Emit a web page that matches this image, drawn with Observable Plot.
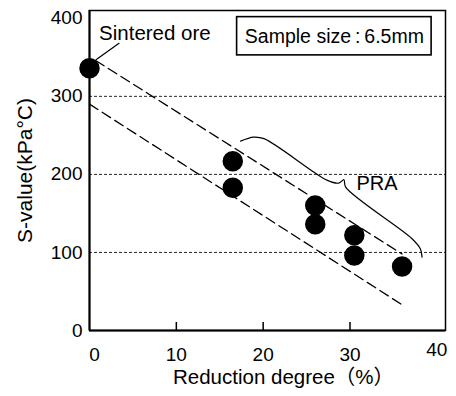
<!DOCTYPE html>
<html>
<head>
<meta charset="utf-8">
<script src="https://cdn.jsdelivr.net/npm/d3@7"></script>
<script src="https://cdn.jsdelivr.net/npm/@observablehq/plot@0.6"></script>
<style>
  html, body { margin: 0; padding: 0; background: #fff; }
</style>
</head>
<body>
<div id="chart"></div>
<script>
// ---- data ----
const reduction = [0, 16.5, 16.5, 26, 26, 30.5, 30.5, 36];
const sValue    = [336, 217, 183, 160, 136, 122, 96, 82];
const yTicks = [0, 100, 200, 300, 400];
const gridValues = [100, 200, 300];
const xTicksInner = [10, 20, 30];
// annotation geometry (data units)
const upperBand = [[0.7, 346], [36, 98]];
const lowerBand = [[0, 290], [36, 33]];
const leader = [[0.75, 347], [3.4, 368]];
const brace = [[17.4, 242.7], [18.9, 247.8], [20.1, 245.8], [27.4, 192.3], [28.7, 188.8], [29.3, 193.2],
               [29.5, 183.7], [37.15, 117.6], [38.1, 104.7], [38.3, 94]];
const sinteredLabel = {x: 1.1, y: 381, text: "Sintered ore"};
const praLabel = {x: 30.75, y: 188, text: "PRA"};
const sampleBox = {x1: 17, x2: 39.4, y1: 352.5, y2: 401.5, text: "Sample size\u2009:\u20096.5mm"};
const xTitle = "Reduction degree（%）";
const yTitle = "S-value(kPa°C)";

const points = reduction.map((x, i) => ({x, y: sValue[i]}));
const font = "'Liberation Sans', Arial, 'Noto Sans CJK JP', sans-serif";

const chart = Plot.plot({
  width: 456,
  height: 396,
  marginLeft: 89,
  marginRight: 11,
  marginTop: 10,
  marginBottom: 66,
  style: {fontFamily: font, fontSize: "19px", background: "#fff", color: "#000"},
  x: {domain: [0, 41]},
  y: {domain: [0, 410]},
  marks: [
    Plot.gridY(gridValues, {stroke: "#000", strokeOpacity: 0.85, strokeWidth: 1, strokeDasharray: "3,2"}),
    Plot.axisY(yTicks, {tickSize: 0, tickPadding: 7, fontSize: 19, label: null}),
    Plot.axisY([], {tickSize: 0, label: yTitle, labelArrow: "none", labelAnchor: "center", labelOffset: 72, fontSize: 21}),
    Plot.axisX(xTicksInner, {tickSize: 0, tickPadding: 17, fontSize: 19, label: null}),
    Plot.axisX([0], {tickSize: 0, tickPadding: 17, dx: 5, fontSize: 19, label: null}),
    Plot.axisX([40], {tickSize: 0, tickPadding: 12, fontSize: 19, label: null}),
    Plot.ruleX(xTicksInner, {y1: 0, y2: 0, insetTop: -8, stroke: "#000", strokeWidth: 1.5}),
    Plot.line(upperBand, {x: d => d[0], y: d => d[1], stroke: "#000", strokeWidth: 1.3, strokeDasharray: "10,5"}),
    Plot.line(lowerBand, {x: d => d[0], y: d => d[1], stroke: "#000", strokeWidth: 1.3, strokeDasharray: "10,5"}),
    Plot.line(leader, {x: d => d[0], y: d => d[1], stroke: "#000", strokeWidth: 1.2}),
    Plot.line(brace, {x: d => d[0], y: d => d[1], stroke: "#000", strokeWidth: 1.2, curve: "catmull-rom"}),
    Plot.dot(points, {x: "x", y: "y", r: 9.5, fill: "#000", stroke: "#000"}),
    Plot.rect([sampleBox], {x1: "x1", x2: "x2", y1: "y1", y2: "y2", fill: "#fff", stroke: "#000", strokeWidth: 1.6}),
    Plot.text([sampleBox], {x: d => (d.x1 + d.x2) / 2, y: d => (d.y1 + d.y2) / 2, text: "text", fontSize: 19.5, textAnchor: "middle"}),
    Plot.text([sinteredLabel], {x: "x", y: "y", text: "text", fontSize: 20.5, textAnchor: "start"}),
    Plot.text([praLabel], {x: "x", y: "y", text: "text", fontSize: 20, textAnchor: "start"}),
    Plot.text([xTitle], {frameAnchor: "bottom", dy: 53, dx: 16, text: d => d, fontSize: 20.5}),
    Plot.frame({stroke: "#000", strokeWidth: 1.5}),
    Plot.ruleX([0], {stroke: "#000", strokeWidth: 2}),
    Plot.ruleY([0], {stroke: "#000", strokeWidth: 2})
  ]
});
document.getElementById("chart").appendChild(chart);
</script>
</body>
</html>
